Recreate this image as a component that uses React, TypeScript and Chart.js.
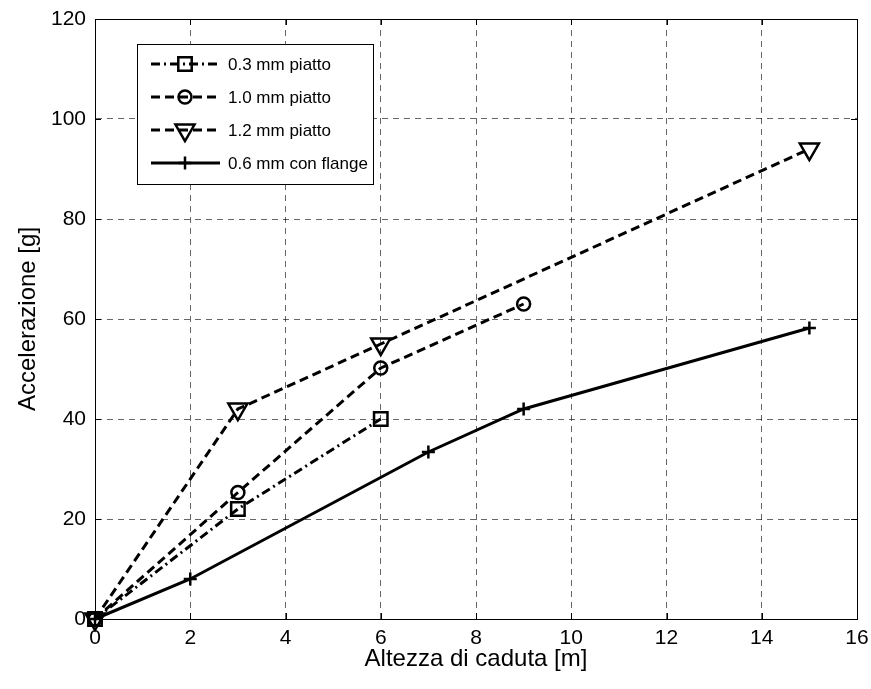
import React, { useEffect, useRef } from "react";
import { Chart, registerables } from "chart.js";

Chart.register(...registerables);

const xTicks = [0, 2, 4, 6, 8, 10, 12, 14, 16];
const yTicks = [0, 20, 40, 60, 80, 100, 120];

const labels = ["0.3 mm piatto", "1.0 mm piatto", "1.2 mm piatto", "0.6 mm con flange"];

const h03 = [0, 3, 6];
const a03 = [0, 22, 40];
const h10 = [0, 3, 6, 9];
const a10 = [0, 25.3, 50.2, 63];
const h12 = [0, 3, 6, 15];
const a12 = [0, 42, 55, 94];
const h06 = [0, 2, 7, 9, 15];
const a06 = [0, 8, 33.4, 42, 58.2];

const xTitle = "Altezza di caduta [m]";
const yTitle = "Accelerazione [g]";

const FONT = "'Liberation Sans', Arial, sans-serif";

const styles = [
  { dash: [9, 4, 2, 4], point: "rect", radius: 9.5, rotation: 0 },
  { dash: [9, 5], point: "circle", radius: 6.5, rotation: 0 },
  { dash: [9, 5], point: "triangle", radius: 11, rotation: 180 },
  { dash: [], point: "cross", radius: 6.5, rotation: 0 },
];

function drawMarker(ctx: CanvasRenderingContext2D, kind: string, x: number, y: number, r: number) {
  ctx.save();
  ctx.setLineDash([]);
  ctx.strokeStyle = "#000";
  ctx.lineWidth = 2.5;
  ctx.beginPath();
  if (kind === "rect") {
    const s = Math.SQRT1_2 * r;
    ctx.rect(x - s, y - s, 2 * s, 2 * s);
  } else if (kind === "circle") {
    ctx.arc(x, y, r, 0, Math.PI * 2);
  } else if (kind === "triangle") {
    for (let i = 0; i < 3; i++) {
      const a = Math.PI + (i * 2 * Math.PI) / 3;
      const px = x + Math.sin(a) * r;
      const py = y - Math.cos(a) * r;
      if (i === 0) ctx.moveTo(px, py);
      else ctx.lineTo(px, py);
    }
    ctx.closePath();
  } else if (kind === "cross") {
    ctx.moveTo(x - r, y);
    ctx.lineTo(x + r, y);
    ctx.moveTo(x, y - r);
    ctx.lineTo(x, y + r);
  }
  ctx.stroke();
  ctx.restore();
}

const framePlugin = {
  id: "frame",
  afterDraw(chart: any) {
    const ctx: CanvasRenderingContext2D = chart.ctx;
    const { left, right, top, bottom } = chart.chartArea;
    const xs = chart.scales.x;
    const ys = chart.scales.y;
    ctx.save();
    ctx.strokeStyle = "#000";
    ctx.lineWidth = 1;
    ctx.setLineDash([]);
    ctx.strokeRect(Math.round(left) + 0.5, Math.round(top) + 0.5, Math.round(right - left), Math.round(bottom - top));
    const tl = 6;
    ctx.beginPath();
    xTicks.forEach((v) => {
      const px = Math.round(xs.getPixelForValue(v)) + 0.5;
      ctx.moveTo(px, bottom);
      ctx.lineTo(px, bottom - tl);
      ctx.moveTo(px, top);
      ctx.lineTo(px, top + tl);
    });
    yTicks.forEach((v) => {
      const py = Math.round(ys.getPixelForValue(v)) + 0.5;
      ctx.moveTo(left, py);
      ctx.lineTo(left + tl, py);
      ctx.moveTo(right, py);
      ctx.lineTo(right - tl, py);
    });
    ctx.stroke();

    ctx.fillStyle = "#000";
    ctx.font = `24px ${FONT}`;
    ctx.textAlign = "center";
    ctx.textBaseline = "middle";
    ctx.fillText(xTitle, (left + right) / 2, 659);
    ctx.save();
    ctx.translate(28, (top + bottom) / 2);
    ctx.rotate(-Math.PI / 2);
    ctx.fillText(yTitle, 0, 0);
    ctx.restore();

    const lx = 137, ly = 44, lw = 236, lh = 140;
    ctx.fillStyle = "#fff";
    ctx.fillRect(lx, ly, lw, lh);
    ctx.strokeStyle = "#000";
    ctx.lineWidth = 1;
    ctx.strokeRect(lx + 0.5, ly + 0.5, lw, lh);
    const rows = [64, 97, 130, 163];
    labels.forEach((lab, i) => {
      const st = styles[i];
      const y = rows[i];
      ctx.save();
      ctx.strokeStyle = "#000";
      ctx.lineWidth = 3;
      ctx.setLineDash(st.dash);
      ctx.beginPath();
      ctx.moveTo(151, y);
      ctx.lineTo(220, y);
      ctx.stroke();
      ctx.restore();
      drawMarker(ctx, st.point, 185, y, st.radius);
      ctx.fillStyle = "#000";
      ctx.font = `17px ${FONT}`;
      ctx.textAlign = "left";
      ctx.textBaseline = "middle";
      ctx.fillText(lab, 228, y + 1);
    });
    ctx.restore();
  },
};

function pts(xs: number[], ys: number[]) {
  return xs.map((x, i) => ({ x, y: ys[i] }));
}

function noPad(s: any) {
  s.paddingTop = 0;
  s.paddingBottom = 0;
  s.paddingLeft = 0;
  s.paddingRight = 0;
}

export default function App() {
  const ref = useRef<HTMLCanvasElement | null>(null);
  useEffect(() => {
    document.body.style.margin = "0";
    const canvas = ref.current;
    if (!canvas) return;
    const series = [pts(h03, a03), pts(h10, a10), pts(h12, a12), pts(h06, a06)];
    const chart = new Chart(canvas, {
      type: "line",
      data: {
        datasets: series.map((d, i) => ({
          label: labels[i],
          data: d,
          borderColor: "#000",
          backgroundColor: "transparent",
          borderWidth: 3,
          borderDash: styles[i].dash,
          pointStyle: styles[i].point as any,
          pointRadius: styles[i].radius,
          pointRotation: styles[i].rotation,
          pointBorderWidth: 2.5,
          pointBorderColor: "#000",
          pointBackgroundColor: "transparent",
          tension: 0,
          clip: false as any,
        })),
      },
      options: {
        animation: false,
        responsive: false,
        maintainAspectRatio: false,
        layout: { padding: { left: 0, top: 19, right: 14, bottom: 0 } },
        plugins: { legend: { display: false }, tooltip: { enabled: false } },
        scales: {
          x: {
            type: "linear",
            min: 0,
            max: 16,
            afterFit: (s: any) => { s.height = 70; noPad(s); },
            afterBuildTicks: (s: any) => { s.ticks = xTicks.map((v) => ({ value: v })); },
            ticks: { color: "#000", font: { family: FONT, size: 21 }, padding: 7, maxRotation: 0 },
            grid: { color: "rgba(0,0,0,0.6)", lineWidth: 1, drawTicks: false },
            border: { display: true, color: "#000", dash: [6, 5] } as any,
          },
          y: {
            type: "linear",
            min: 0,
            max: 120,
            afterFit: (s: any) => { s.width = 95; noPad(s); },
            afterBuildTicks: (s: any) => { s.ticks = yTicks.map((v) => ({ value: v })); },
            ticks: { color: "#000", font: { family: FONT, size: 21 }, padding: 9 },
            grid: { color: "rgba(0,0,0,0.6)", lineWidth: 1, drawTicks: false },
            border: { display: true, color: "#000", dash: [6, 5] } as any,
          },
        },
      },
      plugins: [framePlugin],
    });
    return () => chart.destroy();
  }, []);
  return (
    <div style={{ width: 871, height: 689, background: "#fff" }}>
      <canvas ref={ref} width={871} height={689} style={{ display: "block" }} />
    </div>
  );
}
